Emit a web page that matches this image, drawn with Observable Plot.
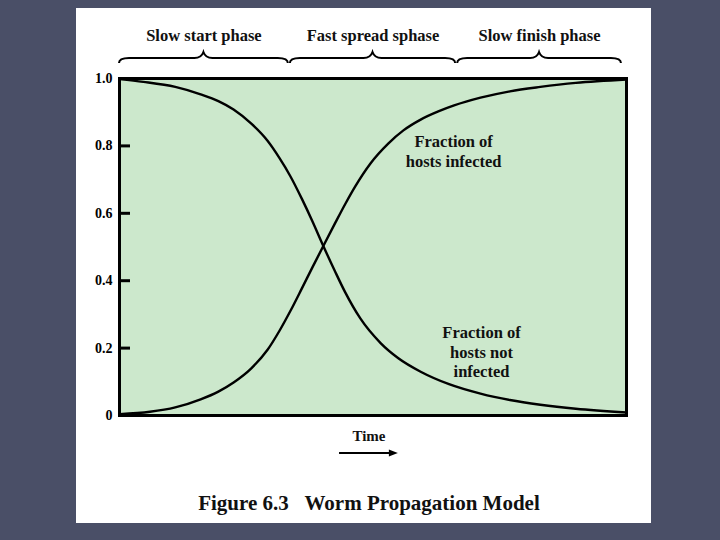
<!DOCTYPE html>
<html>
<head>
<meta charset="utf-8">
<script src="https://cdn.jsdelivr.net/npm/d3@7"></script>
<script src="https://cdn.jsdelivr.net/npm/@observablehq/plot@0.6"></script>
<style>
  html, body { margin: 0; padding: 0; width: 720px; height: 540px; overflow: hidden; background: #4a4f67; }
  #panel { position: absolute; left: 76px; top: 8px; width: 575px; height: 515px; background: #ffffff; }
  #chart { position: absolute; left: 0; top: 0; }
</style>
</head>
<body>
<div id="panel"></div>
<div id="chart"></div>
<script>
// ---- data (time in arbitrary units 0..100, fraction 0..1) ----
const infectedT = [0, 6, 11, 16, 19.5, 22.5, 26, 29.2, 31.5, 33.7, 36, 38, 40.2, 42.5, 44.5, 46.5, 49.5, 53, 56, 59.4, 63, 66, 71.2, 77, 83, 90, 100];
const infectedV = [0.004, 0.011, 0.024, 0.048, 0.071, 0.098, 0.14, 0.195, 0.25, 0.31, 0.378, 0.438, 0.503, 0.57, 0.627, 0.68, 0.748, 0.807, 0.846, 0.878, 0.903, 0.92, 0.943, 0.962, 0.975, 0.987, 0.997];
const notInfectedT = [0, 4.7, 11, 16, 19.5, 22.5, 26, 29.2, 31.5, 33.7, 36, 38, 40.2, 42.5, 44.5, 47.5, 51.5, 55, 59.4, 65, 71.2, 77, 83, 90, 100];
const notInfectedV = [0.998, 0.99, 0.975, 0.953, 0.933, 0.908, 0.866, 0.815, 0.765, 0.71, 0.642, 0.578, 0.503, 0.428, 0.366, 0.288, 0.215, 0.17, 0.13, 0.093, 0.065, 0.046, 0.032, 0.02, 0.009];
const phaseLabels = ["Slow start phase", "Fast spread sphase", "Slow finish phase"];
const phaseStart = [0, 33.7, 66.7];
const phaseEnd = [33.3, 66.3, 99.0];
const yTicks = [0, 0.2, 0.4, 0.6, 0.8, 1.0];
const yTickLabels = ["0", "0.2", "0.4", "0.6", "0.8", "1.0"];
const curveLabels = ["Fraction of\nhosts infected", "Fraction of\nhosts not\ninfected"];
const curveLabelT = [65.9, 71.4];
const curveLabelV = [0.785, 0.19];
const timeLabel = "Time";
const timeArrow = [43.4, 55.0];
const title = "Figure 6.3\u00a0\u00a0\u00a0Worm Propagation Model";

const infected = infectedT.map((t, i) => ({t, v: infectedV[i]}));
const notInfected = notInfectedT.map((t, i) => ({t, v: notInfectedV[i]}));
const phases = phaseLabels.map((label, i) => ({label, start: phaseStart[i], end: phaseEnd[i], mid: (phaseStart[i] + phaseEnd[i]) / 2}));
const curveNotes = curveLabels.map((text, i) => ({text, t: curveLabelT[i], v: curveLabelV[i]}));

const FONT = "'Liberation Serif', 'Times New Roman', serif";

function decorations(index, scales, values, dimensions) {
  const g = d3.create("svg:g").attr("fill", "none").attr("stroke", "black");
  const yb = dimensions.marginTop - 20;
  for (const p of phases) {
    const x0 = scales.x(p.start), x1 = scales.x(p.end), xm = (x0 + x1) / 2;
    const d = `M${x0},${yb + 5} Q${x0},${yb} ${x0 + 10},${yb} L${xm - 9},${yb} Q${xm - 2},${yb} ${xm},${yb - 6} Q${xm + 2},${yb} ${xm + 9},${yb} L${x1 - 10},${yb} Q${x1},${yb} ${x1},${yb + 5}`;
    g.append("path").attr("d", d).attr("stroke-width", 2);
  }
  const ya = dimensions.height - dimensions.marginBottom + 38;
  const a0 = scales.x(timeArrow[0]), a1 = scales.x(timeArrow[1]);
  g.append("line").attr("x1", a0).attr("x2", a1 - 6).attr("y1", ya).attr("y2", ya).attr("stroke-width", 2);
  g.append("path").attr("d", `M${a1},${ya} L${a1 - 9},${ya - 3.5} L${a1 - 9},${ya + 3.5} Z`).attr("fill", "black").attr("stroke", "none");
  return g.node();
}

const chart = Plot.plot({
  width: 720,
  height: 540,
  marginLeft: 119,
  marginRight: 94,
  marginTop: 78,
  marginBottom: 125,
  style: {background: "transparent", fontFamily: FONT, fontWeight: "bold", overflow: "visible"},
  x: {domain: [0, 100], axis: null, label: null},
  y: {domain: [0, 1], axis: null, label: null},
  marks: [
    Plot.frame({fill: "#cce8cc"}),
    Plot.axisY(yTicks, {anchor: "left", label: null, tickSize: 9, dx: 11, strokeWidth: 3, tickFormat: () => ""}),
    Plot.axisY(yTicks, {anchor: "left", label: null, tickSize: 0, tickPadding: 7, fontSize: 14, fontWeight: "bold", fill: "black", tickFormat: (d) => yTickLabels[yTicks.indexOf(d)]}),
    Plot.line(infected, {x: "t", y: "v", curve: "monotone-x", stroke: "black", strokeWidth: 2.4}),
    Plot.line(notInfected, {x: "t", y: "v", curve: "monotone-x", stroke: "black", strokeWidth: 2.4}),
    Plot.frame({stroke: "black", strokeWidth: 3}),
    Plot.text(curveNotes, {x: "t", y: "v", text: "text", fontSize: 16.5, fontWeight: "bold", lineHeight: 1.18, fill: "#111"}),
    Plot.text(phases, {x: "mid", text: "label", frameAnchor: "top", dy: -49, fontSize: 16.5, fontWeight: "bold", fill: "#111"}),
    Plot.text([timeLabel], {x: (timeArrow[0] + timeArrow[1]) / 2, text: d => d, frameAnchor: "bottom", dy: 25, fontSize: 15, fontWeight: "bold", fill: "#111"}),
    Plot.text([title], {x: 49.2, text: d => d, frameAnchor: "bottom", dy: 94, fontSize: 21, fontWeight: "bold", fill: "#111"}),
    decorations
  ]
});
document.getElementById("chart").appendChild(chart);
</script>
</body>
</html>
